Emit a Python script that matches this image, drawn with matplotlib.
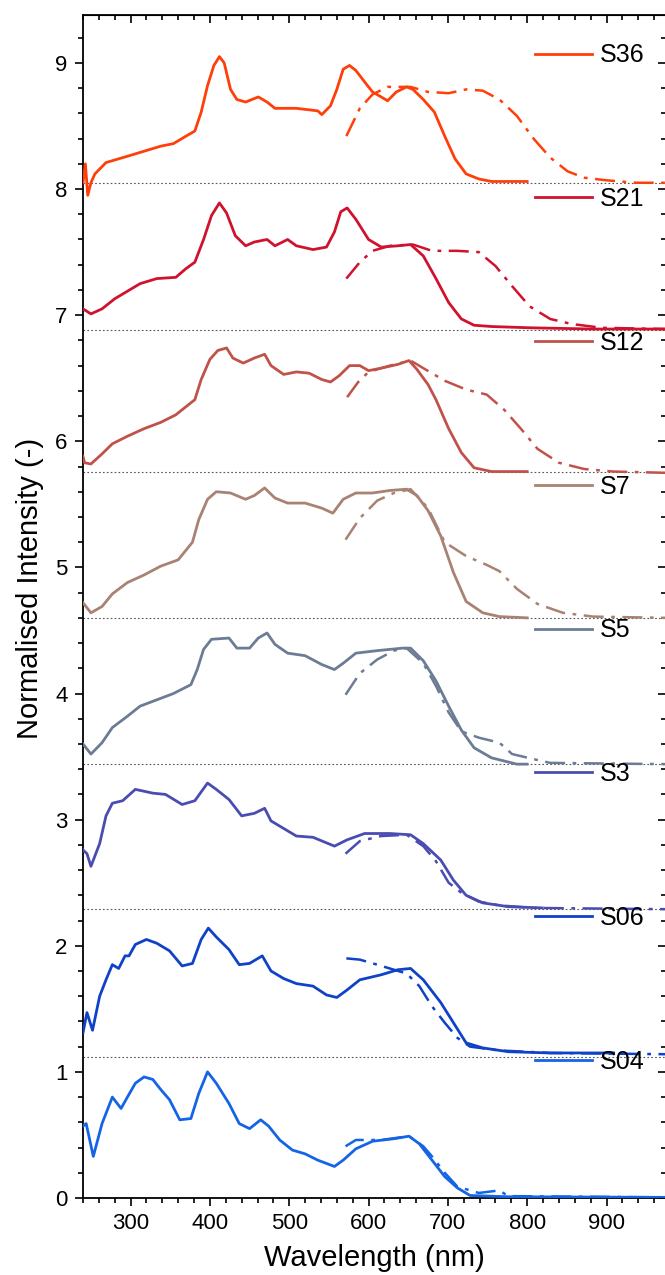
import matplotlib
matplotlib.use("Agg")
import matplotlib.pyplot as plt
from matplotlib.ticker import MultipleLocator

plt.rcParams["font.family"] = ["Liberation Sans", "DejaVu Sans"]

# ---- data (wavelength in nm, stacked intensity) ----
labels = ["S36", "S21", "S12", "S7", "S5", "S3", "S06", "S04"]
colors = ["#ff3f0a", "#d0122e", "#c0524a", "#a88272", "#6c7c94",
          "#4a4cb2", "#0f42c8", "#1464e6"]
baselines = [8.05, 6.88, 5.76, 4.60, 3.44, 2.29, 1.12]

s36_wl = [240, 243, 246, 250, 255, 269, 296, 317, 338, 354, 370, 381, 389, 397,
          405, 412, 418, 426, 434, 445, 461, 472, 482, 509, 536, 541, 552, 560,
          568, 576, 584, 595, 605, 616, 624, 635, 648, 656, 669, 683, 696, 709,
          723, 739, 755, 776, 800]
s36_int = [8.05, 8.20, 7.95, 8.05, 8.12, 8.21, 8.26, 8.30, 8.34, 8.36, 8.42,
           8.46, 8.61, 8.82, 8.98, 9.05, 9.00, 8.79, 8.71, 8.69, 8.73, 8.69,
           8.64, 8.64, 8.62, 8.59, 8.66, 8.79, 8.95, 8.98, 8.94, 8.85, 8.77,
           8.73, 8.70, 8.77, 8.81, 8.79, 8.71, 8.61, 8.42, 8.24, 8.12, 8.08,
           8.06, 8.06, 8.06]
s36_dd_wl = [572, 589, 605, 624, 653, 675, 701, 723, 744, 765, 787, 808, 829,
             851, 872, 899, 936, 975]
s36_dd_int = [8.42, 8.64, 8.75, 8.81, 8.81, 8.77, 8.76, 8.79, 8.78, 8.71, 8.58,
              8.40, 8.25, 8.14, 8.09, 8.07, 8.05, 8.05]

s21_wl = [240, 250, 264, 280, 296, 312, 333, 357, 370, 381, 392, 402, 412, 421,
          432, 445, 456, 472, 482, 498, 509, 530, 547, 557, 565, 573, 584, 600,
          616, 637, 653, 669, 685, 701, 717, 733, 755, 803, 883, 975]
s21_int = [7.05, 7.01, 7.05, 7.13, 7.19, 7.25, 7.29, 7.30, 7.37, 7.42, 7.60,
           7.79, 7.89, 7.81, 7.63, 7.55, 7.58, 7.60, 7.55, 7.60, 7.55, 7.52,
           7.54, 7.66, 7.82, 7.85, 7.76, 7.60, 7.54, 7.55, 7.56, 7.47, 7.29,
           7.10, 6.97, 6.92, 6.91, 6.90, 6.89, 6.89]
s21_dd_wl = [572, 589, 605, 627, 656, 680, 712, 739, 760, 781, 803, 829, 856,
             894, 975]
s21_dd_int = [7.29, 7.42, 7.51, 7.55, 7.56, 7.51, 7.51, 7.50, 7.39, 7.23, 7.07,
              6.97, 6.93, 6.90, 6.89]

s12_wl = [240, 242, 250, 264, 277, 296, 317, 338, 357, 381, 389, 400, 410, 421,
          429, 442, 456, 469, 477, 493, 509, 525, 541, 552, 563, 576, 589, 600,
          616, 637, 651, 661, 675, 685, 701, 717, 733, 755, 800]
s12_int = [5.88, 5.83, 5.82, 5.90, 5.98, 6.04, 6.10, 6.15, 6.21, 6.33, 6.49,
           6.65, 6.72, 6.74, 6.66, 6.62, 6.66, 6.69, 6.60, 6.53, 6.55, 6.54,
           6.49, 6.47, 6.52, 6.60, 6.60, 6.56, 6.58, 6.61, 6.64, 6.57, 6.45,
           6.33, 6.10, 5.91, 5.79, 5.76, 5.76]
s12_dd_wl = [573, 587, 600, 627, 653, 669, 696, 723, 749, 771, 792, 813, 840,
             872, 909, 975]
s12_dd_int = [6.35, 6.47, 6.55, 6.60, 6.64, 6.58, 6.48, 6.41, 6.37, 6.25, 6.10,
              5.94, 5.83, 5.78, 5.76, 5.75]

s7_wl = [240, 250, 264, 277, 296, 317, 338, 360, 378, 386, 397, 408, 426, 445,
         456, 469, 482, 498, 520, 541, 555, 568, 584, 605, 627, 648, 661, 675,
         691, 707, 723, 744, 765, 800]
s7_int = [4.72, 4.64, 4.69, 4.79, 4.88, 4.94, 5.01, 5.06, 5.20, 5.38, 5.54,
          5.60, 5.59, 5.54, 5.57, 5.63, 5.55, 5.51, 5.51, 5.47, 5.43, 5.54,
          5.59, 5.59, 5.61, 5.62, 5.57, 5.45, 5.25, 4.96, 4.73, 4.64, 4.61,
          4.60]
s7_dd_wl = [571, 589, 611, 632, 653, 675, 696, 723, 749, 765, 787, 813, 845,
            883, 975]
s7_dd_int = [5.22, 5.39, 5.53, 5.59, 5.62, 5.47, 5.20, 5.09, 5.02, 4.97, 4.83,
             4.71, 4.64, 4.61, 4.60]

s5_wl = [240, 250, 264, 277, 296, 312, 333, 354, 376, 384, 392, 402, 424, 434,
         450, 461, 472, 482, 498, 520, 541, 557, 568, 584, 611, 643, 653, 669,
         685, 701, 717, 733, 755, 787, 800]
s5_int = [3.60, 3.52, 3.61, 3.73, 3.82, 3.90, 3.95, 4.00, 4.07, 4.19, 4.35,
          4.43, 4.44, 4.36, 4.36, 4.44, 4.48, 4.39, 4.32, 4.30, 4.23, 4.19,
          4.24, 4.32, 4.34, 4.36, 4.36, 4.26, 4.10, 3.90, 3.71, 3.57, 3.49,
          3.44, 3.44]
s5_dd_wl = [571, 589, 611, 632, 648, 669, 685, 701, 717, 739, 765, 781, 808,
            829, 975]
s5_dd_int = [3.99, 4.16, 4.27, 4.34, 4.36, 4.24, 4.06, 3.85, 3.70, 3.65, 3.61,
             3.52, 3.48, 3.45, 3.44]

s3_wl = [240, 245, 250, 261, 269, 277, 290, 306, 328, 344, 365, 381, 397, 408,
         424, 440, 456, 469, 477, 493, 509, 530, 557, 573, 595, 627, 653, 669,
         691, 707, 723, 744, 776, 819]
s3_int = [2.76, 2.73, 2.63, 2.81, 3.03, 3.13, 3.15, 3.24, 3.21, 3.20, 3.12,
          3.15, 3.29, 3.24, 3.16, 3.03, 3.05, 3.09, 2.99, 2.93, 2.87, 2.86,
          2.79, 2.84, 2.89, 2.89, 2.88, 2.81, 2.68, 2.52, 2.40, 2.34, 2.31,
          2.30]
s3_dd_wl = [571, 589, 616, 648, 669, 685, 701, 717, 739, 765, 808, 975]
s3_dd_int = [2.73, 2.83, 2.87, 2.88, 2.79, 2.67, 2.50, 2.42, 2.35, 2.32, 2.30,
             2.29]

s06_wl = [240, 245, 252, 261, 269, 277, 285, 293, 298, 306, 320, 333, 349, 365,
          378, 389, 398, 408, 424, 437, 450, 466, 477, 493, 509, 530, 547, 560,
          573, 589, 616, 637, 653, 669, 691, 707, 723, 744, 776, 829, 909]
s06_int = [1.31, 1.47, 1.33, 1.60, 1.73, 1.85, 1.82, 1.92, 1.92, 2.01, 2.05,
           2.02, 1.96, 1.84, 1.86, 2.05, 2.14, 2.07, 1.97, 1.85, 1.86, 1.92,
           1.80, 1.74, 1.70, 1.68, 1.61, 1.59, 1.65, 1.73, 1.77, 1.81, 1.82,
           1.73, 1.55, 1.39, 1.23, 1.19, 1.16, 1.15, 1.15]
s06_dd_wl = [572, 589, 611, 632, 648, 664, 680, 696, 712, 728, 765, 829, 975]
s06_dd_int = [1.90, 1.89, 1.85, 1.81, 1.78, 1.68, 1.52, 1.39, 1.27, 1.20, 1.17,
              1.15, 1.14]

s04_wl = [240, 244, 253, 264, 277, 288, 296, 306, 317, 328, 338, 349, 362, 376,
          386, 397, 408, 424, 437, 450, 464, 474, 488, 504, 520, 536, 557, 568,
          584, 605, 632, 651, 664, 680, 696, 712, 728, 776, 975]
s04_int = [0.57, 0.59, 0.33, 0.59, 0.80, 0.71, 0.80, 0.91, 0.96, 0.94, 0.86,
           0.78, 0.62, 0.63, 0.83, 1.00, 0.91, 0.75, 0.59, 0.55, 0.62, 0.57,
           0.46, 0.38, 0.35, 0.30, 0.25, 0.30, 0.39, 0.45, 0.47, 0.49, 0.43,
           0.30, 0.17, 0.08, 0.02, 0.01, 0.005]
s04_dd_wl = [571, 584, 616, 651, 669, 680, 696, 712, 739, 765, 776, 975]
s04_dd_int = [0.41, 0.46, 0.46, 0.49, 0.41, 0.33, 0.20, 0.09, 0.04, 0.06,
              0.015, 0.005]

solid = [(s36_wl, s36_int), (s21_wl, s21_int), (s12_wl, s12_int),
         (s7_wl, s7_int), (s5_wl, s5_int), (s3_wl, s3_int),
         (s06_wl, s06_int), (s04_wl, s04_int)]
dashdot = [(s36_dd_wl, s36_dd_int), (s21_dd_wl, s21_dd_int),
           (s12_dd_wl, s12_dd_int), (s7_dd_wl, s7_dd_int),
           (s5_dd_wl, s5_dd_int), (s3_dd_wl, s3_dd_int),
           (s06_dd_wl, s06_dd_int), (s04_dd_wl, s04_dd_int)]

# ---- figure ----
W, H = 665, 1275
fig = plt.figure(figsize=(W / 100, H / 100), dpi=100)
left, right, top, bottom = 83, 666, 15, 1198
ax = fig.add_axes([left / W, 1 - bottom / H, (right - left) / W, (bottom - top) / H])

for b in baselines:
    ax.axhline(b, color="#555555", lw=0.8, ls=(0, (1.5, 2)), zorder=1)

handles = []
for (wl, val), (dwl, dval), c, lab in zip(solid, dashdot, colors, labels):
    h, = ax.plot(wl, val, color=c, lw=2.0, label=lab, zorder=3)
    ax.plot(dwl, dval, color=c, lw=1.8, ls=(0, (8, 3, 1.5, 3)), zorder=2)
    handles.append(h)

ax.set_xlim(240, 975)
ax.set_ylim(0, 9.38)

ax.xaxis.set_major_locator(MultipleLocator(100))
ax.xaxis.set_minor_locator(MultipleLocator(20))
ax.yaxis.set_major_locator(MultipleLocator(1))
ax.yaxis.set_minor_locator(MultipleLocator(0.2))
ax.tick_params(which="both", direction="out", width=1.2, labelsize=16)
ax.tick_params(which="major", length=6)
ax.tick_params(which="minor", length=3.5)
ax.tick_params(axis="x", pad=5)
ax.tick_params(axis="y", pad=5)
for sp in ax.spines.values():
    sp.set_linewidth(1.3)

# mirrored inward ticks on top and right
top_ax = ax.secondary_xaxis("top")
top_ax.xaxis.set_major_locator(MultipleLocator(100))
top_ax.xaxis.set_minor_locator(MultipleLocator(20))
top_ax.tick_params(which="both", direction="in", width=1.2, labeltop=False)
top_ax.tick_params(which="major", length=6)
top_ax.tick_params(which="minor", length=3.5)
right_ax = ax.secondary_yaxis("right")
right_ax.yaxis.set_major_locator(MultipleLocator(1))
right_ax.yaxis.set_minor_locator(MultipleLocator(0.2))
right_ax.tick_params(which="both", direction="in", width=1.2, labelright=False)
right_ax.tick_params(which="major", length=6)
right_ax.tick_params(which="minor", length=3.5)

ax.set_xlabel("Wavelength (nm)", fontsize=21)
ax.set_ylabel("Normalised Intensity (-)", fontsize=21)
ax.xaxis.set_label_coords(0.5, -0.039)
ax.yaxis.set_label_coords(-0.067, 0.515)

ax.legend(handles=handles, loc="upper left", bbox_to_anchor=(0.775, 0.976),
          frameon=False, fontsize=18, handlelength=2.3, handletextpad=0.3,
          labelspacing=4.79, borderpad=0, borderaxespad=0)

fig.savefig("out.png", dpi=100)
